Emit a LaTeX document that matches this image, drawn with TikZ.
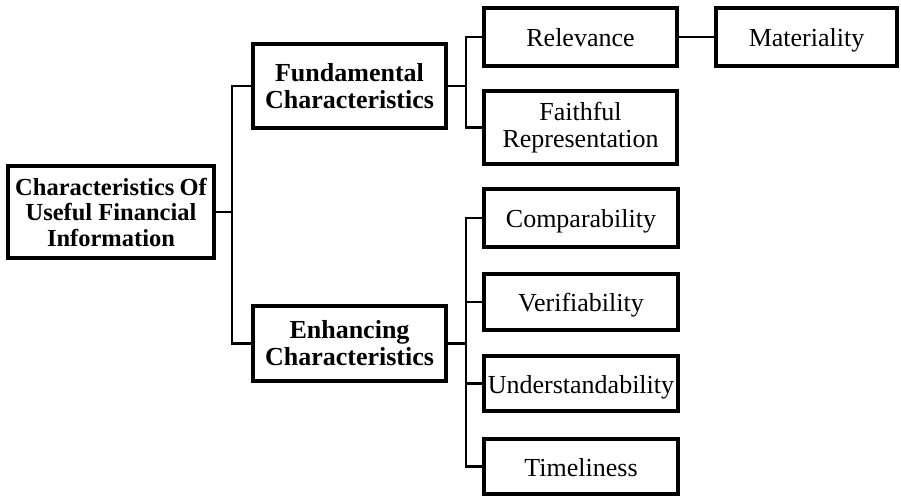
\documentclass[tikz,border=0pt]{standalone}
\usepackage{fontspec}
\setmainfont{Liberation Serif}
\begin{document}
\begin{tikzpicture}[x=1pt,y=-1pt,
  box/.style={draw, line width=3.2pt, rectangle, align=center, inner sep=0pt,
    font=\fontsize{26}{27}\selectfont},
  one/.style={box, text height=21pt, text depth=2pt},
  bbox/.style={box, font=\fontsize{26}{27}\selectfont\bfseries},
  link/.style={line width=2.1pt}]
\useasboundingbox (0,0) rectangle (901,497);
\node[bbox, minimum width=206pt, minimum height=92pt, font=\fontsize{24.5}{25.5}\selectfont\bfseries] (root) at (111,212) {Characteristics\hspace{-1pt} Of\\Useful Financial\\Information};
\node[bbox, minimum width=193pt, minimum height=84pt] (fund) at (349.5,86) {Fundamental\\Characteristics};
\node[bbox, minimum width=193pt, minimum height=75pt] (enh) at (349.5,343.5) {Enhancing\\Characteristics};
\node[one, minimum width=193pt, minimum height=58pt] (rel) at (580.5,37) {Relevance};
\node[box, minimum width=193pt, minimum height=73pt] (faith) at (580.5,127.5) {Faithful\\Representation};
\node[one, minimum width=181pt, minimum height=58pt] (mat) at (806.5,37) {Materiality};
\node[one, minimum width=194pt, minimum height=58pt] (comp) at (581,218) {Comparability};
\node[one, minimum width=194pt, minimum height=56pt] (ver) at (581,302) {Verifiability};
\node[one, minimum width=194pt, minimum height=55pt] (und) at (581,383.5) {Understandability};
\node[one, minimum width=194pt, minimum height=55pt] (time) at (581,466.5) {Timeliness};
\coordinate (j1) at (232,212);
\coordinate (j2) at (466,86);
\coordinate (j3) at (466,343.5);
\draw[link] (root.east) -- (j1);
\draw[link] (fund.west) -| (j1) |- (enh.west);
\draw[link] (fund.east) -- (j2);
\draw[link] (rel.west) -| (j2) |- (faith.west);
\draw[link] (rel.east) -- (mat.west);
\draw[link] (enh.east) -- (j3);
\draw[link] (comp.west) -| (j3) |- (time.west);
\draw[link] (ver.west) -- (ver.west -| j3);
\draw[link] (und.west) -- (und.west -| j3);
\end{tikzpicture}
\end{document}
